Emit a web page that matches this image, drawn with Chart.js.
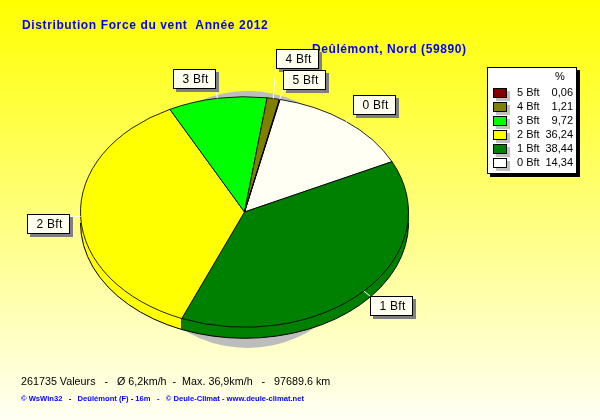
<!DOCTYPE html>
<html><head><meta charset="utf-8">
<style>html,body{margin:0;padding:0;background:#fff}canvas{display:block}</style>
<script src="https://cdn.jsdelivr.net/npm/chart.js@4"></script>
</head><body>
<div style="width:600px;height:420px"><canvas id="c" width="600" height="420"></canvas></div>
<script>
const categories = ['0 Bft','1 Bft','2 Bft','3 Bft','4 Bft','5 Bft'];
const shares = [14.34,38.44,36.24,9.72,1.21,0.06];
const shareLabels = ['14,34','38,44','36,24','9,72','1,21','0,06'];
const sliceColors = ['#FFFFF4','#008000','#FFFF00','#00FF00','#808000','#800000'];
const titleText = 'Distribution Force du vent  Année 2012';
const subtitleText = 'Deûlémont, Nord (59890)';
const footerLine1 = '261735 Valeurs   -   Ø 6,2km/h  -  Max. 36,9km/h   -   97689.6 km';
const footerLine2 = '© WsWin32   -   Deûlémont (F) - 16m   -   © Deule-Climat - www.deule-climat.net';

const SQUASH = 0.703, DEPTH = 11;
// callout box left/top per category
const calloutBoxes = [[353,95],[370,296],[27,214],[173,69],[276,49],[283,70]];
const FONT = '"Liberation Sans", Arial, sans-serif';

const pieArt = {
  id:'pieArt',
  beforeDraw(chart){
    const {ctx,width,height}=chart;
    const g=ctx.createLinearGradient(0,0,0,height);
    g.addColorStop(0,'#FFFF00'); g.addColorStop(1,'#FFFFF4');
    ctx.fillStyle=g; ctx.fillRect(0,0,width,height);
    ctx.save();
    ctx.textBaseline='middle'; ctx.textAlign='left';
    ctx.fillStyle='#0000FF'; ctx.font='bold 12px '+FONT;
    ctx.letterSpacing='0.62px';
    ctx.fillText(titleText,22,26);
    ctx.letterSpacing='0.57px';
    ctx.fillText(subtitleText,312,50);
    ctx.letterSpacing='0px';
    ctx.fillStyle='#000'; ctx.font='10.75px '+FONT;
    ctx.fillText(footerLine1,21,382);
    ctx.fillStyle='#0000FF'; ctx.font='bold 7.6px '+FONT;
    ctx.fillText(footerLine2,21,399);
    ctx.restore();
  },
  beforeDatasetsDraw(chart){
    const {ctx}=chart;
    const arcs=chart.getDatasetMeta(0).data;
    const a0=arcs[0], cx=a0.x, cy=a0.y, R=a0.outerRadius;
    // soft grey shadow
    ctx.save();
    ctx.fillStyle='#BDBDBD';
    ctx.beginPath();
    ctx.ellipse(cx+3,cy+7.5,R*0.76,R*SQUASH*1.115,0,0,Math.PI*2);
    ctx.fill();
    ctx.restore();
    // rim
    ctx.save();
    for(let d=DEPTH;d>=1;d--){
      ctx.save();
      ctx.translate(cx,cy+d); ctx.scale(1,SQUASH); ctx.translate(-cx,-cy);
      arcs.forEach((a,i)=>{
        ctx.fillStyle=sliceColors[i];
        ctx.beginPath(); ctx.moveTo(cx,cy);
        ctx.arc(cx,cy,R,a.startAngle,a.endAngle); ctx.closePath(); ctx.fill();
      });
      ctx.restore();
    }
    // rim lower outline
    ctx.strokeStyle='#000'; ctx.lineWidth=1;
    ctx.beginPath();
    ctx.ellipse(cx,cy+DEPTH,R,R*SQUASH,0,0,Math.PI);
    ctx.stroke();
    // rim vertical joins on visible side
    arcs.forEach(a=>{
      const t=a.endAngle, s=Math.sin(t);
      if(s>0){
        const x=cx+R*Math.cos(t), y=cy+R*SQUASH*s;
        ctx.beginPath(); ctx.moveTo(x,y); ctx.lineTo(x,y+DEPTH); ctx.stroke();
      }
    });
    ctx.restore();
    // squash the library's own pie
    ctx.save();
    ctx.translate(cx,cy); ctx.scale(1,SQUASH); ctx.translate(-cx,-cy);
  },
  afterDatasetsDraw(chart){
    const {ctx}=chart;
    ctx.restore();
    const arcs=chart.getDatasetMeta(0).data;
    const a0=arcs[0], cx=a0.x, cy=a0.y, R=a0.outerRadius;
    // callouts
    ctx.save();
    ctx.font='12px '+FONT; ctx.textBaseline='middle'; ctx.textAlign='center';
    const bw=43,bh=20;
    arcs.forEach((a,i)=>{
      const m=(a.startAngle+a.endAngle)/2;
      const ax=cx+R*Math.cos(m), ay=cy+R*SQUASH*Math.sin(m);
      const [bx,by]=calloutBoxes[i];
      const tx=Math.max(bx,Math.min(bx+bw,ax)), ty=Math.max(by,Math.min(by+bh,ay));
      ctx.strokeStyle='#fff'; ctx.lineWidth=1;
      ctx.beginPath(); ctx.moveTo(ax,ay); ctx.lineTo(tx,ty); ctx.stroke();
    });
    ctx.letterSpacing='0.3px';
    [4,5,0,3,2,1].forEach(i=>{
      const [bx,by]=calloutBoxes[i];
      ctx.fillStyle='#808080'; ctx.fillRect(bx+3,by+3,bw,bh);
      ctx.fillStyle='#FFFFF0'; ctx.fillRect(bx,by,bw,bh);
      ctx.strokeStyle='#000'; ctx.lineWidth=1; ctx.strokeRect(bx+.5,by+.5,bw-1,bh-1);
      ctx.fillStyle='#000'; ctx.fillText(categories[i],bx+bw/2+1,by+bh/2+.5);
    });
    ctx.restore();
    // legend panel
    ctx.save();
    ctx.fillStyle='#000'; ctx.fillRect(490,70,90,107);
    ctx.fillStyle='#fff'; ctx.fillRect(487,67,90,107);
    ctx.strokeStyle='#000'; ctx.strokeRect(487.5,67.5,89,106);
    ctx.font='11px '+FONT; ctx.textBaseline='middle';
    ctx.fillStyle='#000'; ctx.textAlign='left'; ctx.fillText('%',555,77);
    for(let i=categories.length-1,r=0;i>=0;i--,r++){
      const y=93+r*14;
      ctx.fillStyle='#C0C0C0'; ctx.fillRect(496,y-2,14,10);
      ctx.fillStyle=sliceColors[i]==='#FFFFF4'?'#FFFFFF':sliceColors[i]; ctx.fillRect(493,y-5,14,10);
      ctx.strokeStyle='#000'; ctx.strokeRect(493.5,y-4.5,13,9);
      ctx.fillStyle='#000'; ctx.textAlign='left'; ctx.fillText(categories[i],517,y);
      ctx.textAlign='right'; ctx.fillText(shareLabels[i],573,y);
    }
    ctx.restore();
  }
};
new Chart(document.getElementById('c'),{
  type:'pie',
  data:{labels:categories,datasets:[{data:shares,backgroundColor:sliceColors,borderColor:'#000',borderWidth:1}]},
  options:{
    responsive:false,animation:false,rotation:12.5,
    layout:{padding:{left:80,right:191,top:47.5,bottom:43.5}},
    plugins:{legend:{display:false},tooltip:{enabled:false},title:{display:false}}
  },
  plugins:[pieArt]
});
</script>
</body></html>
